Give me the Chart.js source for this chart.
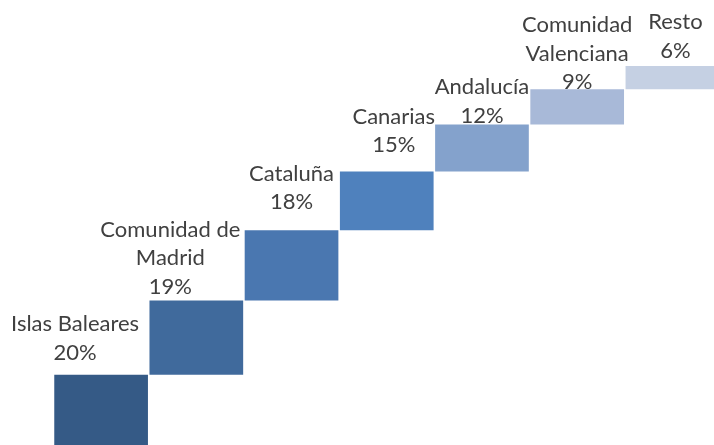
<!DOCTYPE html>
<html>
<head>
<meta charset="utf-8">
<script src="https://cdn.jsdelivr.net/npm/chart.js@4"></script>
<style>
  html, body { margin: 0; padding: 0; background: #ffffff; overflow: hidden; }
  #wrap { position: absolute; left: 0; top: 0; width: 720px; height: 453px; }
</style>
</head>
<body>
<div id="wrap"><canvas id="c" width="720" height="453"></canvas></div>
<script>
// ---- data ----
const categories = [["Islas Baleares"], ["Comunidad de", "Madrid"], ["Cataluña"], ["Canarias"], ["Andalucía"], ["Comunidad", "Valenciana"], ["Resto"]];
const shares = [20, 19, 18, 15, 12, 9, 6];
const shareLabels = ["20%", "19%", "18%", "15%", "12%", "9%", "6%"];

// ---- styling ----
const barColors = ["#355A86", "#406A9C", "#4A77B0", "#4F81BD", "#84A2CC", "#A8B9D8", "#C5D0E3"];
const labelShiftX = [-26, -26, 0, 7, 0, 0, 3];
const labelGapY = [15, 7, 21, 19, 2, 0, 8];

// floating bars: each spans from the running total before it to the running total after it
const ranges = [];
let run = 0;
for (const v of shares) { ranges.push([run, run + v]); run += v; }

const labelPlugin = {
  id: 'stairLabels',
  afterDatasetsDraw(chart) {
    const ctx = chart.ctx;
    const meta = chart.getDatasetMeta(0);
    ctx.save();
    ctx.font = '22px Lato, "Open Sans", sans-serif';
    ctx.fillStyle = '#404040';
    ctx.textAlign = 'center';
    ctx.textBaseline = 'alphabetic';
    const lh = 28.5;
    meta.data.forEach((bar, i) => {
      const lines = categories[i].concat([shareLabels[i]]);
      const x = bar.x + labelShiftX[i];
      const top = Math.min(bar.y, bar.base);
      const lastBase = top - labelGapY[i];
      lines.forEach((t, k) => {
        ctx.fillText(t, x, lastBase - (lines.length - 1 - k) * lh);
      });
    });
    ctx.restore();
  }
};

new Chart(document.getElementById('c'), {
  type: 'bar',
  data: {
    labels: categories.map(c => c.join(' ')),
    datasets: [{
      data: ranges,
      backgroundColor: barColors,
      borderWidth: 0,
      barPercentage: 0.984,
      categoryPercentage: 1.0
    }]
  },
  options: {
    responsive: false,
    animation: false,
    devicePixelRatio: 1,
    layout: { padding: { left: 53.5, right: 0, top: 62, bottom: 0 } },
    plugins: { legend: { display: false }, tooltip: { enabled: false } },
    scales: {
      x: { display: false },
      y: { display: false, min: 0, max: 100 }
    }
  },
  plugins: [labelPlugin]
});
</script>
</body>
</html>
